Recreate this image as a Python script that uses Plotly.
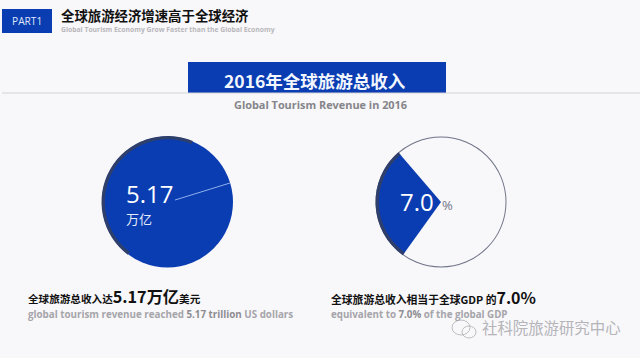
import plotly.graph_objects as go

# Data
revenue_label = "5.17"
revenue_unit = "万亿"
gdp_label = "7.0"
pie_left_values = [100]                # full disc
pie_right_values = [28.8, 71.2]        # drawn share of the blue wedge / rest
arc_left_values = [46, 54]             # dark rim share / rest
arc_right_values = [28.8, 71.2]

BG = "#f8f7f9"
BLUE = "#0a3db2"
DARK = "#2f3f6b"
CJK = "Noto Sans CJK SC"
OS = "Open Sans"
W, H = 640, 358


def dom(cx, cy, r):
    return dict(x=[(cx - r) / W, (cx + r) / W], y=[1 - (cy + r) / H, 1 - (cy - r) / H])


def px(x):
    return x / W


def py(y):
    return 1 - y / H


fig = go.Figure()
fig.add_trace(go.Pie(values=pie_left_values, domain=dom(167.5, 202, 65.5), sort=False,
                     marker=dict(colors=[BLUE], line=dict(width=0)),
                     textinfo="none", hoverinfo="skip", showlegend=False))
fig.add_trace(go.Pie(values=arc_left_values, domain=dom(167.5, 202, 66), sort=False, hole=0.95,
                     rotation=217, direction="clockwise",
                     marker=dict(colors=[DARK, "rgba(0,0,0,0)"], line=dict(width=0)),
                     textinfo="none", hoverinfo="skip", showlegend=False))
fig.add_trace(go.Pie(values=pie_right_values, domain=dom(441, 202, 65), sort=False,
                     rotation=215.7, direction="clockwise",
                     marker=dict(colors=[BLUE, "rgba(255,255,255,0)"], line=dict(width=0)),
                     textinfo="none", hoverinfo="skip", showlegend=False))
fig.add_trace(go.Pie(values=[1], domain=dom(441, 202, 65.5), hole=0.985, sort=False,
                     marker=dict(colors=["#6f7488"], line=dict(width=0)),
                     textinfo="none", hoverinfo="skip", showlegend=False))
fig.add_trace(go.Pie(values=arc_right_values, domain=dom(441, 202, 65.5), sort=False, hole=0.95,
                     rotation=215.7, direction="clockwise",
                     marker=dict(colors=[DARK, "rgba(0,0,0,0)"], line=dict(width=0)),
                     textinfo="none", hoverinfo="skip", showlegend=False))


def rect(x0, y0, x1, y1, color):
    return dict(type="rect", xref="paper", yref="paper", x0=px(x0), x1=px(x1), y0=py(y0), y1=py(y1),
                fillcolor=color, line=dict(width=0), layer="below")


def seg(x0, y0, x1, y1, color, w=1):
    return dict(type="line", xref="paper", yref="paper", x0=px(x0), x1=px(x1), y0=py(y0), y1=py(y1),
                line=dict(color=color, width=w), layer="above")


def oval(x0, y0, x1, y1, color):
    return dict(type="circle", xref="paper", yref="paper", x0=px(x0), x1=px(x1), y0=py(y0), y1=py(y1),
                line=dict(color=color, width=1), fillcolor="rgba(0,0,0,0)", layer="above")


shapes = [
    rect(2, 9, 52, 33, BLUE),
    seg(2, 93, 640, 93, "#d3d3d7", 1),
    rect(188, 62, 446, 93, BLUE),
    seg(175, 200, 230, 183, "#8fb0ee", 1),
    oval(452, 320, 470, 335, "#bdbdc2"),
    oval(462, 326, 476, 338, "#bdbdc2"),
]


def txt(x, y, s, size, color, anchor="left", font=CJK):
    return dict(xref="paper", yref="paper", x=px(x), y=py(y), text=s, showarrow=False,
                xanchor=anchor, yanchor="middle", font=dict(size=size, color=color, family=font),
                align=anchor)


def big(s, size):
    return f"<span style='font-size:{size}px'><b>{s}</b></span>"


annotations = [
    txt(10, 21, "PART1", 10.2, "#dfe7f7", "left", OS),
    txt(59, 15, "<b>全球旅游经济增速高于全球经济</b>", 13.4, "#111111"),
    txt(59, 30, "<b>Global Tourism Economy Grow Faster than the Global Economy</b>", 6.8, "#b8b8bc", "left", OS),
    txt(314.5, 80, "<b>2016年全球旅游总收入</b>", 17.5, "#f2f6ff", "center"),
    txt(320, 105, "<b>Global Tourism Revenue in 2016</b>", 10.9, "#85858a", "center", OS),
    txt(124, 193, revenue_label, 24, "#ffffff", "left", OS),
    txt(124, 218, revenue_unit, 13, "#e4ebfa", "left"),
    txt(398, 201, gdp_label, 24, "#ffffff", "left", OS),
    txt(440, 205, "%", 13, "#6f7488", "left", OS),
    txt(26, 296, "<b>全球旅游总收入达" + big("5.17万亿", 16.2) + "美元</b>", 10.6, "#111111"),
    txt(26, 314, "<b>global tourism revenue reached </b><span style='color:#8d8d92'><b>5.17 trillion</b></span><b> US dollars</b>",
        9.8, "#a5a5aa", "left", OS),
    txt(329, 297, "<b>全球旅游总收入相当于全球GDP 的" + big("7.0%", 16) + "</b>", 10.8, "#111111"),
    txt(329, 314, "<b>equivalent to </b><span style='color:#8d8d92'><b>7.0%</b></span><b> of the global GDP</b>",
        9.75, "#a5a5aa", "left", OS),
    txt(480, 327, "社科院旅游研究中心", 15.4, "#b4b4b9", "left"),
]

fig.update_layout(width=W, height=H, margin=dict(l=0, r=0, t=0, b=0), paper_bgcolor=BG, plot_bgcolor=BG,
                  showlegend=False, shapes=shapes, annotations=annotations)
fig.write_html("out.html", config={"displayModeBar": False},
               post_script="document.body.style.margin='0';document.body.style.background='#f8f7f9';document.documentElement.style.overflow='hidden';")
